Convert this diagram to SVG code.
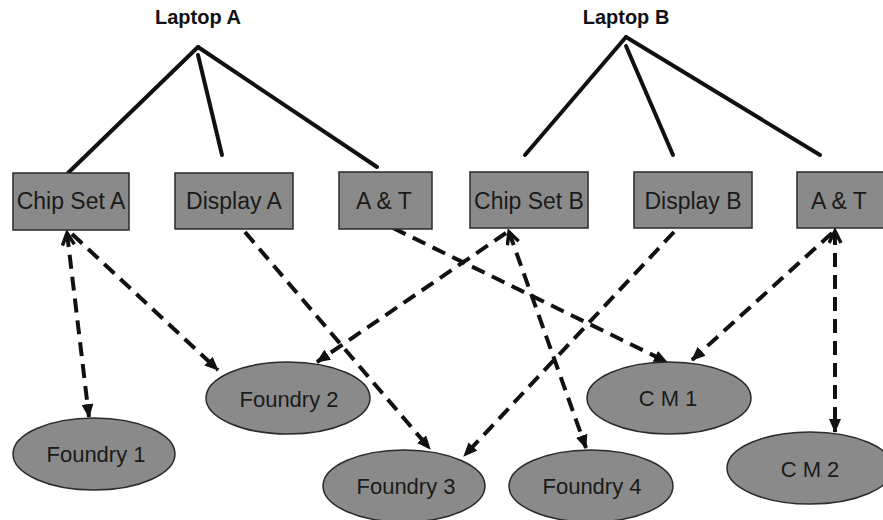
<svg xmlns="http://www.w3.org/2000/svg" width="883" height="520" viewBox="0 0 883 520">
<style>
.box{fill:#8a8a8a;stroke:#2a2a2a;stroke-width:1.5}
.ell{fill:#8a8a8a;stroke:#2a2a2a;stroke-width:1.5}
.lbl{font-family:"Liberation Sans",Arial,sans-serif;font-size:23px;fill:#1a1a1a;text-anchor:middle}
.ttl{font-family:"Liberation Sans",Arial,sans-serif;font-size:20px;font-weight:bold;fill:#111;text-anchor:middle}
.solid{stroke:#111;stroke-width:4;fill:none;stroke-linecap:round}
.dash{stroke:#111;stroke-width:4;fill:none;stroke-dasharray:14 8}
</style>
<defs>
<marker id="fa" markerUnits="userSpaceOnUse" markerWidth="14" markerHeight="12" refX="13" refY="6" orient="auto">
<path d="M0,0 L14,6 L0,12 z" fill="#111"/>
</marker>
<marker id="oa" markerUnits="userSpaceOnUse" markerWidth="16" markerHeight="16" refX="13" refY="7" orient="auto-start-reverse">
<path d="M1,1 L13,7 L1,13" fill="none" stroke="#111" stroke-width="3.5"/>
</marker>
</defs>
<rect width="883" height="520" fill="#fff"/>
<g id="laptopA"><text class="ttl" x="198" y="24">Laptop A</text></g>
<g id="laptopB"><text class="ttl" x="626" y="24">Laptop B</text></g>
<g id="connectors">
<line class="solid" x1="198" y1="47" x2="68" y2="173"/>
<line class="solid" x1="198" y1="55" x2="222" y2="155"/>
<line class="solid" x1="198" y1="47" x2="377" y2="167"/>
<line class="solid" x1="626" y1="37" x2="525" y2="155"/>
<line class="solid" x1="626" y1="46" x2="673" y2="155"/>
<line class="solid" x1="626" y1="37" x2="820" y2="155"/>
<line class="dash" x1="67" y1="233" x2="89" y2="417" marker-start="url(#oa)" marker-end="url(#fa)"/>
<line class="dash" x1="72" y1="234" x2="218" y2="370" marker-end="url(#fa)"/>
<line class="dash" x1="245" y1="232" x2="430" y2="449" marker-end="url(#fa)"/>
<line class="dash" x1="393" y1="228" x2="667" y2="362" marker-end="url(#fa)"/>
<line class="dash" x1="506" y1="233" x2="317" y2="362" marker-end="url(#fa)"/>
<line class="dash" x1="509" y1="232" x2="586" y2="448" marker-start="url(#oa)" marker-end="url(#fa)"/>
<line class="dash" x1="674" y1="232" x2="464" y2="456" marker-end="url(#fa)"/>
<line class="dash" x1="832" y1="233" x2="692" y2="360" marker-end="url(#fa)"/>
<line class="dash" x1="835" y1="231" x2="835" y2="432" marker-start="url(#oa)" marker-end="url(#fa)"/>
</g>
<g id="chipSetA"><rect class="box" x="13" y="173" width="116" height="57"/><text class="lbl" x="71" y="209">Chip Set A</text></g>
<g id="displayA"><rect class="box" x="175" y="173" width="118" height="56"/><text class="lbl" x="234" y="209">Display A</text></g>
<g id="atA"><rect class="box" x="339" y="172" width="93" height="57"/><text class="lbl" x="384" y="209">A &amp; T</text></g>
<g id="chipSetB"><rect class="box" x="470" y="172" width="118" height="56"/><text class="lbl" x="529" y="209">Chip Set B</text></g>
<g id="displayB"><rect class="box" x="634" y="172" width="118" height="56"/><text class="lbl" x="693" y="209">Display B</text></g>
<g id="atB"><rect class="box" x="797" y="172" width="95" height="56"/><text class="lbl" x="839" y="209">A &amp; T</text></g>
<g id="foundry1"><ellipse class="ell" cx="94" cy="454" rx="81" ry="36"/><text class="lbl" x="96" y="462" style="font-size:22px">Foundry 1</text></g>
<g id="foundry2"><ellipse class="ell" cx="288" cy="398" rx="82" ry="36"/><text class="lbl" x="289" y="407" style="font-size:22px">Foundry 2</text></g>
<g id="foundry3"><ellipse class="ell" cx="404" cy="486" rx="81" ry="36"/><text class="lbl" x="406" y="494" style="font-size:22px">Foundry 3</text></g>
<g id="foundry4"><ellipse class="ell" cx="591" cy="486" rx="82" ry="36"/><text class="lbl" x="592" y="494" style="font-size:22px">Foundry 4</text></g>
<g id="cm1"><ellipse class="ell" cx="669" cy="398" rx="82" ry="36"/><text class="lbl" x="668" y="406" style="font-size:22px">C M 1</text></g>
<g id="cm2"><ellipse class="ell" cx="810" cy="468" rx="83" ry="36"/><text class="lbl" x="810" y="477" style="font-size:22px">C M 2</text></g>
</svg>
